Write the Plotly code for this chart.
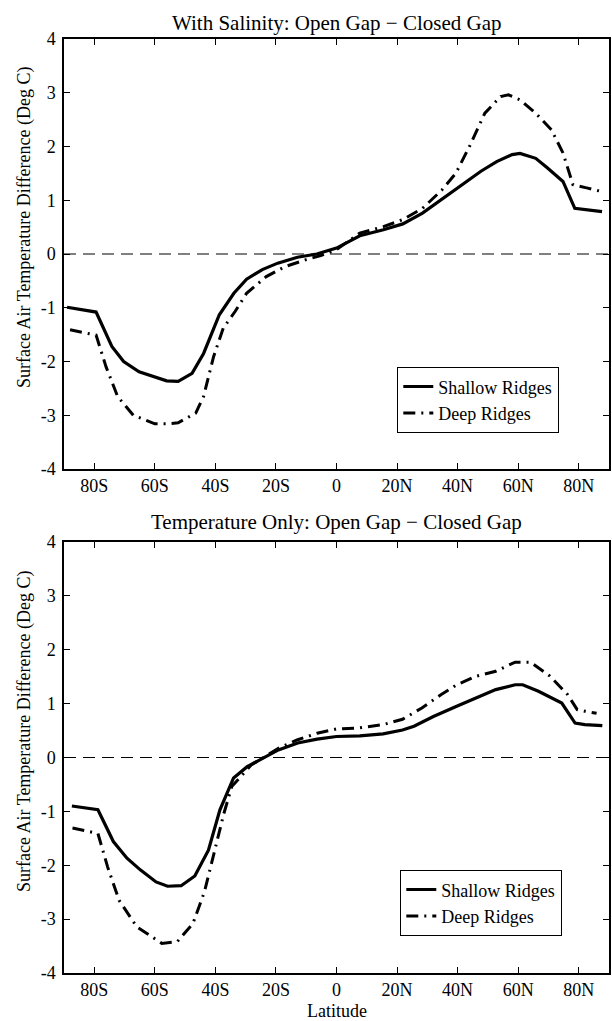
import plotly.graph_objects as go

# ---------------- data ----------------
lat_sal_shallow = [-89, -79.4, -74.2, -70.3, -65.2, -60, -56.1, -52.3, -47.7, -43.9, -38.7, -33.9, -29.7,
                   -24.5, -19.4, -12.9, -6.5, 0, 7.7, 15.5, 21.9, 28.4, 34.8, 41.3, 47.7, 52.9, 58, 60.6,
                   65.8, 69.7, 74.8, 78.7, 82.6, 87.7]
sal_shallow = [-0.99, -1.08, -1.72, -2.0, -2.19, -2.28, -2.36, -2.37, -2.22, -1.85, -1.13, -0.73, -0.47,
               -0.29, -0.17, -0.06, 0.0, 0.11, 0.34, 0.45, 0.56, 0.76, 1.02, 1.27, 1.54, 1.72, 1.85, 1.87,
               1.78, 1.60, 1.35, 0.85, 0.82, 0.79]

lat_sal_deep = [-88, -79.4, -76.1, -72.3, -67.1, -60, -56.1, -52.3, -46.5, -43.9, -40.6, -37.4, -33.5,
                -29.7, -23.2, -16.8, -10.3, -5.2, 0, 7.7, 15.5, 21.9, 28.4, 34.8, 39.4, 43.9, 49, 54.2,
                56.8, 60.6, 65.8, 71, 74.8, 78.1, 82.6, 87.7]
sal_deep = [-1.41, -1.51, -2.1, -2.65, -3.0, -3.16, -3.16, -3.14, -2.96, -2.65, -1.91, -1.38, -1.07,
            -0.73, -0.42, -0.23, -0.11, -0.03, 0.08, 0.39, 0.51, 0.64, 0.85, 1.19, 1.5, 2.0, 2.62, 2.93,
            2.96, 2.87, 2.62, 2.31, 1.88, 1.29, 1.23, 1.16]

lat_tmp_shallow = [-87.4, -78.8, -73.7, -69.2, -64.7, -59.6, -55.8, -51.3, -46.8, -42.3, -38.5, -34, -29.5,
                   -24.4, -19.2, -12.8, -6.4, 0, 7.7, 15.4, 21.8, 25.6, 32, 39.7, 46.2, 52.6, 59, 61.5,
                   66.7, 74.4, 78.8, 82, 87.8]
tmp_shallow = [-0.90, -0.97, -1.56, -1.87, -2.09, -2.31, -2.39, -2.38, -2.20, -1.72, -0.97, -0.38, -0.17,
               -0.01, 0.14, 0.27, 0.34, 0.39, 0.40, 0.44, 0.51, 0.58, 0.76, 0.95, 1.10, 1.26, 1.35, 1.35,
               1.23, 1.01, 0.64, 0.61, 0.59]

lat_tmp_deep = [-87.2, -78.8, -75.6, -71.8, -66, -59.6, -57.7, -52.6, -47.4, -43.6, -40.4, -37.2, -34.6,
                -30.8, -28.2, -24.4, -19.2, -12.8, -6.4, 0, 7.7, 15.4, 21.8, 28.2, 34.6, 39.7, 46.2, 52.6,
                59, 64.1, 70.5, 76.3, 79.5, 82, 85.9]
tmp_deep = [-1.31, -1.41, -2.03, -2.65, -3.14, -3.39, -3.45, -3.42, -3.08, -2.49, -1.78, -1.04, -0.54,
            -0.29, -0.14, -0.01, 0.17, 0.33, 0.45, 0.53, 0.55, 0.61, 0.71, 0.92, 1.17, 1.35, 1.51, 1.60,
            1.77, 1.77, 1.51, 1.17, 0.89, 0.86, 0.82]

x_tickvals = [-80, -60, -40, -20, 0, 20, 40, 60, 80]
x_ticktext = ["80S", "60S", "40S", "20S", "0", "20N", "40N", "60N", "80N"]
y_tickvals = [-4, -3, -2, -1, 0, 1, 2, 3, 4]
y_ticktext = ["-4", "-3", "-2", "-1", "0", "1", "2", "3", "4"]

title_top = "With Salinity: Open Gap \u2212 Closed Gap"
title_bot = "Temperature Only: Open Gap \u2212 Closed Gap"
ylabel = "Surface Air Temperature Difference (Deg C)"
xlabel = "Latitude"
names = ["Shallow Ridges", "Deep Ridges"]

# ---------------- figure ----------------
W, H = 612, 1021
FONT = "Liberation Serif, Times New Roman, serif"
DASHDOT = "12px,6px,2px,6px"

fig = go.Figure()

def px_x(p):
    return p / W

def px_y(p):
    return 1 - p / H

fig.add_trace(go.Scatter(x=lat_sal_shallow, y=sal_shallow, mode="lines", name=names[0],
                         line=dict(color="black", width=3.2), xaxis="x", yaxis="y", legend="legend"))
fig.add_trace(go.Scatter(x=lat_sal_deep, y=sal_deep, mode="lines", name=names[1],
                         line=dict(color="black", width=3, dash=DASHDOT), xaxis="x", yaxis="y", legend="legend"))
fig.add_trace(go.Scatter(x=lat_tmp_shallow, y=tmp_shallow, mode="lines", name=names[0],
                         line=dict(color="black", width=3.2), xaxis="x2", yaxis="y2", legend="legend2"))
fig.add_trace(go.Scatter(x=lat_tmp_deep, y=tmp_deep, mode="lines", name=names[1],
                         line=dict(color="black", width=3, dash=DASHDOT), xaxis="x2", yaxis="y2", legend="legend2"))

xdom = [px_x(64), px_x(609)]
axis_common = dict(showline=True, linecolor="black", linewidth=1.5, mirror="ticks",
                   ticks="inside", ticklen=6, tickwidth=1.3, tickcolor="black",
                   showgrid=False, zeroline=False,
                   tickfont=dict(family=FONT, size=18, color="black"))

fig.update_layout(
    width=W, height=H, margin=dict(l=0, r=0, t=0, b=0, autoexpand=False),
    paper_bgcolor="white", plot_bgcolor="white",
    font=dict(family=FONT, color="black"),
    xaxis=dict(domain=xdom, range=[-90, 90], tickvals=x_tickvals, ticktext=x_ticktext,
               anchor="y", **axis_common),
    yaxis=dict(domain=[px_y(469), px_y(39)], range=[-4, 4], tickvals=y_tickvals, ticktext=y_ticktext,
               anchor="x", ticklabelstandoff=3, **axis_common),
    xaxis2=dict(domain=xdom, range=[-90, 90], tickvals=x_tickvals, ticktext=x_ticktext,
                anchor="y2", **axis_common),
    yaxis2=dict(domain=[px_y(973), px_y(542)], range=[-4, 4], tickvals=y_tickvals, ticktext=y_ticktext,
                anchor="x2", ticklabelstandoff=3, **axis_common),
    legend=dict(x=px_x(397), y=px_y(367), xanchor="left", yanchor="top",
                bgcolor="white", bordercolor="black", borderwidth=1.3,
                font=dict(family=FONT, size=18, color="black"),
                itemwidth=30, tracegroupgap=0),
    legend2=dict(x=px_x(400), y=px_y(870), xanchor="left", yanchor="top",
                 bgcolor="white", bordercolor="black", borderwidth=1.3,
                 font=dict(family=FONT, size=18, color="black"),
                 itemwidth=30, tracegroupgap=0),
    showlegend=True,
)

# zero reference lines
for xr, yr in (("x", "y"), ("x2", "y2")):
    fig.add_shape(type="line", xref=xr + " domain", yref=yr, x0=0, x1=1, y0=0, y1=0,
                  line=dict(color="black", width=1, dash="12px,7px"), layer="below")

# titles & labels
def label(text, xp, yp, size, angle=0):
    fig.add_annotation(text=text, x=px_x(xp), y=px_y(yp), xref="paper", yref="paper",
                       xanchor="center", yanchor="middle", showarrow=False, textangle=angle,
                       font=dict(family=FONT, size=size, color="black"))

label(title_top, 336.5, 23, 21)
label(title_bot, 336.5, 522, 21)
label(ylabel, 24, 228, 18, -90)
label(ylabel, 24, 732, 18, -90)
label(xlabel, 336.5, 1011, 18)

fig.write_html("out.html")
